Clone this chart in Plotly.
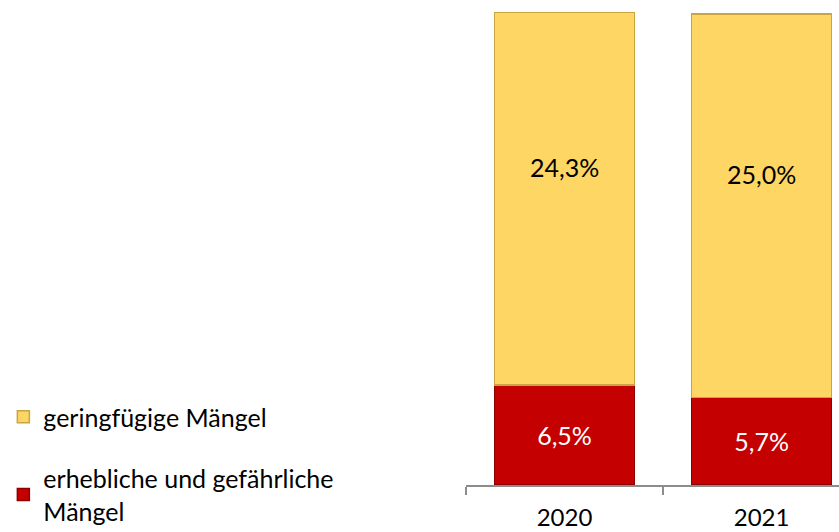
import plotly.graph_objects as go

years = ["2020", "2021"]
erhebliche = [6.5, 5.7]
geringfuegige = [24.3, 25.0]
series_names = ["erhebliche und gefährliche<br>Mängel", "geringfügige Mängel"]

def fmt(v):
    return f"{v:.1f}%".replace(".", ",")

FONT = "Lato, 'Open Sans', sans-serif"

fig = go.Figure()
fig.add_trace(go.Bar(
    x=years, y=erhebliche, name=series_names[0], legendgroup="a", legendrank=2,
    marker=dict(color="#C40000", line=dict(color="#8E0000", width=1.5)),
    text=[fmt(v) for v in erhebliche], textposition="inside",
    insidetextanchor="middle", textangle=0, constraintext="none",
    textfont=dict(color="white", size=25, family=FONT),
    width=0.71,
))
fig.add_trace(go.Bar(
    x=years, y=geringfuegige, name=series_names[1], legendgroup="b", legendrank=1,
    marker=dict(color="#FDD664", line=dict(color="#C9A443", width=1.5)),
    width=0.71,
))

for i, (r, g) in enumerate(zip(erhebliche, geringfuegige)):
    fig.add_annotation(x=i, y=r + g / 2, text=fmt(g), showarrow=False,
                       xref="x", yref="y", yshift=32,
                       font=dict(color="black", size=25, family=FONT))

fig.update_layout(
    barmode="stack",
    width=839, height=532,
    margin=dict(l=466, r=0, t=0, b=47, autoexpand=False),
    paper_bgcolor="white", plot_bgcolor="white",
    font=dict(family=FONT, color="black"),
    showlegend=True,
    legend=dict(
        xref="container", yref="container",
        x=0.004, y=1 - 394 / 532, xanchor="left", yanchor="top",
        traceorder="grouped", tracegroupgap=26,
        font=dict(size=25, family=FONT, color="black"),
        itemwidth=30,
    ),
    xaxis=dict(
        type="category", range=[-0.5, 1.393], automargin=False,
        showline=True, linecolor="#8C8C8C", linewidth=1.5,
        ticks="outside", ticklen=8, tickcolor="#8C8C8C", tickwidth=1.5,
        tickson="boundaries", ticklabelstandoff=10,
        tickfont=dict(size=24, family=FONT, color="black"),
        showgrid=False, zeroline=False,
    ),
    yaxis=dict(range=[0, 31.6], visible=False, showgrid=False, zeroline=False),
)

fig.write_html("out.html", config={"displayModeBar": False},
               post_script="document.body.style.margin='0px';")
